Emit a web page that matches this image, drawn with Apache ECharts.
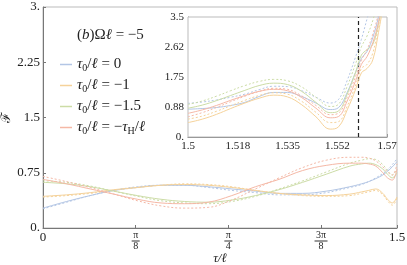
<!DOCTYPE html>
<html><head><meta charset="utf-8">
<script src="https://cdn.jsdelivr.net/npm/echarts@6/dist/echarts.min.js"></script>
<style>html,body{margin:0;padding:0;background:#fff}#c{width:407px;height:265px}</style>
</head><body><div id="c"></div>
<script>
// ---- main panel data ----
const mainTau = [0,0.1,0.2,0.3,0.4,0.5,0.6,0.7,0.8,0.9,1.0,1.1,1.2,1.3,1.35,1.38,1.41,1.44,1.46,1.48,1.5];
const blueSolid   = [0.27,0.36,0.44,0.51,0.55,0.58,0.58,0.56,0.53,0.50,0.47,0.47,0.50,0.56,0.60,0.63,0.67,0.72,0.77,0.83,0.90];
const blueDotted  = [0.26,0.35,0.44,0.51,0.56,0.58,0.58,0.55,0.51,0.48,0.45,0.45,0.48,0.55,0.59,0.63,0.68,0.74,0.79,0.86,0.94];
const orangeSolid = [0.43,0.45,0.48,0.52,0.55,0.58,0.59,0.58,0.55,0.51,0.47,0.45,0.44,0.46,0.49,0.51,0.53,0.47,0.39,0.34,0.42];
const orangeDotted= [0.42,0.44,0.47,0.51,0.55,0.58,0.60,0.59,0.56,0.51,0.47,0.44,0.43,0.44,0.47,0.49,0.51,0.45,0.37,0.31,0.40];
const greenSolid  = [0.62,0.60,0.56,0.50,0.44,0.39,0.36,0.35,0.38,0.44,0.52,0.62,0.73,0.84,0.87,0.88,0.86,0.80,0.73,0.68,0.75];
const greenDotted = [0.64,0.62,0.57,0.50,0.43,0.37,0.34,0.33,0.36,0.43,0.53,0.64,0.76,0.88,0.92,0.94,0.93,0.86,0.78,0.72,0.80];
const redSolid    = [0.66,0.60,0.53,0.46,0.39,0.34,0.33,0.35,0.44,0.56,0.66,0.78,0.85,0.88,0.88,0.87,0.84,0.75,0.68,0.65,0.80];
const redDotted   = [0.70,0.63,0.55,0.46,0.37,0.30,0.27,0.28,0.38,0.53,0.68,0.82,0.92,0.96,0.96,0.95,0.91,0.83,0.76,0.72,0.87];

// ---- inset data ----
const insetTau = [1.5,1.505,1.51,1.515,1.52,1.525,1.53,1.535,1.54,1.545,1.55,1.553,1.556,1.559,1.561,1.563,1.565,1.567,1.569];
const inBlueSolid   = [0.81,0.83,0.86,0.92,1.01,1.18,1.30,1.30,1.18,0.99,0.80,0.86,1.30,1.90,2.29,2.50,2.90,3.50,4.30];
const inBlueDotted  = [0.98,1.02,1.08,1.16,1.25,1.38,1.48,1.47,1.35,1.16,0.99,1.10,1.65,2.35,2.85,3.45,4.00,4.50,5.00];
const inOrangeSolid = [0.42,0.52,0.66,0.83,0.99,1.13,1.22,1.17,0.94,0.59,0.23,0.30,0.79,1.40,1.87,2.00,2.25,3.05,4.00];
const inOrangeDotted= [0.52,0.61,0.75,0.91,1.07,1.21,1.29,1.25,1.04,0.72,0.42,0.45,0.90,1.52,2.00,2.12,2.45,3.25,4.20];
const inGreenSolid  = [0.84,0.93,1.06,1.21,1.36,1.50,1.57,1.53,1.33,1.01,0.71,0.76,1.25,1.90,2.39,2.55,2.70,3.30,4.20];
const inGreenDotted = [0.95,1.05,1.19,1.35,1.50,1.62,1.68,1.64,1.46,1.16,0.89,0.96,1.48,2.15,2.63,2.95,3.40,4.00,4.50];
const inRedSolid    = [0.69,0.79,0.92,1.07,1.21,1.33,1.39,1.35,1.15,0.84,0.56,0.60,1.05,1.65,2.12,2.35,2.75,3.35,4.20];
const inRedDotted   = [0.59,0.71,0.86,1.03,1.19,1.33,1.42,1.39,1.20,0.92,0.65,0.70,1.15,1.78,2.24,2.55,3.00,3.60,4.40];
const tauH = 1.5608;

// ---- ticks ----
const mainXTicks = [0, Math.PI/8, Math.PI/4, 3*Math.PI/8, 1.5];
const mainXTickLabels = ['0','π/8','π/4','3π/8','1.5'];
const mainYTicks = [0,0.75,1.5,2.25,3];
const mainYTickLabels = ['0.','0.75','1.5','2.25','3.'];
const insetXTicks = [1.5,1.5175,1.535,1.5525,1.57];
const insetXTickLabels = ['1.5','1.518','1.535','1.552','1.57'];
const insetYTicks = [0,0.875,1.75,2.625,3.5];
const insetYTickLabels = ['0.','0.88','1.75','2.62','3.5'];

const legendNames = ['τ0/ℓ = 0','τ0/ℓ = −1','τ0/ℓ = −1.5','τ0/ℓ = −τH/ℓ'];
const legendRichText = [
  '{i|τ}{s|0}{t|/}{i|ℓ}{t| = 0}',
  '{i|τ}{s|0}{t|/}{i|ℓ}{t| = −1}',
  '{i|τ}{s|0}{t|/}{i|ℓ}{t| = −1.5}',
  '{i|τ}{s|0}{t|/}{i|ℓ}{t| = −}{i|τ}{s|H}{t|/}{i|ℓ}'
];
const colors = ['#b3c6e5','#f5d29a','#ccdca6','#f5b8a6'];

const FONT = 'Liberation Serif';
function lookup(ticks, labels, v){
  let best=0; for(let i=0;i<ticks.length;i++){ if(Math.abs(ticks[i]-v)<Math.abs(ticks[best]-v)) best=i; }
  return labels[best];
}
function fracLabel(s){
  if(s.indexOf('/')<0) return s;
  const p = s.split('/');
  return '{n|'+p[0]+'}\n{'+(p[0].length>1?'bw':'b')+'|\u00a0}\n{d|'+p[1]+'}';
}
function pairs(xs, ys){ return xs.map((x,i)=>[x,ys[i]]); }

const mainSets = [[blueSolid,blueDotted],[orangeSolid,orangeDotted],[greenSolid,greenDotted],[redSolid,redDotted]];
const inSets = [[inBlueSolid,inBlueDotted],[inOrangeSolid,inOrangeDotted],[inGreenSolid,inGreenDotted],[inRedSolid,inRedDotted]];

const series = [];
mainSets.forEach((s,k)=>{
  series.push({name:legendNames[k], type:'line', xAxisIndex:0, yAxisIndex:0, data:pairs(mainTau,s[0]), smooth:0.4, showSymbol:false, symbol:'none', lineStyle:{color:colors[k], width:1}, itemStyle:{color:colors[k]}, z:3});
  series.push({name:legendNames[k]+' d', type:'line', xAxisIndex:0, yAxisIndex:0, data:pairs(mainTau,s[1]), smooth:0.4, showSymbol:false, symbol:'none', lineStyle:{color:colors[k], width:1, type:[2,2]}, z:3});
});
inSets.forEach((s,k)=>{
  series.push({name:legendNames[k]+' i', type:'line', xAxisIndex:1, yAxisIndex:1, data:pairs(insetTau,s[0]), smooth:0.4, showSymbol:false, symbol:'none', clip:true, lineStyle:{color:colors[k], width:1}, z:5});
  series.push({name:legendNames[k]+' id', type:'line', xAxisIndex:1, yAxisIndex:1, data:pairs(insetTau,s[1]), smooth:0.4, showSymbol:false, symbol:'none', clip:true, lineStyle:{color:colors[k], width:1, type:[2,2]}, z:5});
});
series[series.length-1].markLine = {silent:true, symbol:'none', label:{show:false}, lineStyle:{color:'#222', type:[4,3], width:1.2}, data:[{xAxis:tauH}]};

const chart = echarts.init(document.getElementById('c'), null, {renderer:'canvas'});
chart.setOption({
  animation:false,
  backgroundColor:'#fff',
  textStyle:{fontFamily:FONT},
  title:{text:'{u|(}{i|b}{u|)Ω}{i|ℓ}{u| = −5}', left:72, top:23, textStyle:{fontWeight:'normal', rich:{
    u:{fontFamily:FONT, fontWeight:'normal', fontSize:15, color:'#222'}, i:{fontFamily:FONT, fontWeight:'normal', fontStyle:'italic', fontSize:15, color:'#222'}}}},
  legend:{data:legendNames, orient:'vertical', left:55, top:52, itemWidth:12, itemHeight:1.5, itemGap:5, icon:'rect',
    formatter:(n)=>legendRichText[legendNames.indexOf(n)],
    textStyle:{fontFamily:FONT, fontSize:15, color:'#222', padding:[0,0,0,0], rich:{
      i:{fontFamily:FONT, fontStyle:'italic', fontSize:15, color:'#222', lineHeight:17},
      t:{fontFamily:FONT, fontSize:15, color:'#222', lineHeight:17},
      s:{fontFamily:FONT, fontSize:10, color:'#222', verticalAlign:'bottom', padding:[6,0,0,0], lineHeight:17}}}},
  grid:[
    {left:43, top:7, width:354, height:221, show:true, borderColor:'#bbb', borderWidth:1, backgroundColor:'transparent', containLabel:false, outerBoundsMode:'none'},
    {left:188, top:17, width:199, height:120, show:true, borderColor:'#bbb', borderWidth:1, backgroundColor:'#fff', z:4, containLabel:false, outerBoundsMode:'none'}
  ],
  xAxis:[
    {type:'value', gridIndex:0, min:0, max:1.5, name:'τ/ℓ', nameLocation:'middle', nameGap:24, nameMoveOverlap:false,
     nameTextStyle:{fontFamily:FONT, fontStyle:'italic', fontSize:13, color:'#222'},
     axisLine:{lineStyle:{color:'#777', width:1}}, splitLine:{show:false},
     axisTick:{show:true, inside:true, length:3, customValues:mainXTicks, lineStyle:{color:'#777'}},
     axisLabel:{customValues:mainXTicks, margin:3, color:'#222', fontFamily:FONT, fontSize:13,
       formatter:(v)=>fracLabel(lookup(mainXTicks,mainXTickLabels,v)),
       rich:{n:{fontFamily:FONT,fontSize:10,lineHeight:9,align:'center',color:'#222'},
             d:{fontFamily:FONT,fontSize:10,lineHeight:9,align:'center',color:'#222'},
             b:{width:8,height:1,lineHeight:2,fontSize:1,backgroundColor:'#333',align:'center'},
             bw:{width:13,height:1,lineHeight:2,fontSize:1,backgroundColor:'#333',align:'center'}}}},
    {type:'value', gridIndex:1, min:1.5, max:1.57,
     axisLine:{lineStyle:{color:'#777', width:1}}, splitLine:{show:false},
     axisTick:{show:true, inside:true, length:3, customValues:insetXTicks, lineStyle:{color:'#777'}},
     axisLabel:{customValues:insetXTicks, margin:4, color:'#222', fontFamily:FONT, fontSize:11,
       formatter:(v)=>lookup(insetXTicks,insetXTickLabels,v)}}
  ],
  yAxis:[
    {type:'value', gridIndex:0, min:0, max:3, interval:0.75, name:'ℱ', nameLocation:'middle', nameGap:30, nameRotate:90, nameMoveOverlap:false,
     nameTextStyle:{fontFamily:'DejaVu Serif', fontSize:13, color:'#222'},
     axisLine:{show:true, lineStyle:{color:'#777', width:1}}, splitLine:{show:false},
     axisTick:{show:true, inside:true, length:3, lineStyle:{color:'#777'}},
     axisLabel:{margin:3, color:'#222', fontFamily:FONT, fontSize:13,
       formatter:(v)=>lookup(mainYTicks,mainYTickLabels,v)}},
    {type:'value', gridIndex:1, min:0, max:3.5, interval:0.875,
     axisLine:{show:true, lineStyle:{color:'#777', width:1}}, splitLine:{show:false},
     axisTick:{show:true, inside:true, length:3, lineStyle:{color:'#777'}},
     axisLabel:{margin:4, color:'#222', fontFamily:FONT, fontSize:11,
       formatter:(v)=>lookup(insetYTicks,insetYTickLabels,v)}}
  ],
  series:series
});
</script></body></html>
